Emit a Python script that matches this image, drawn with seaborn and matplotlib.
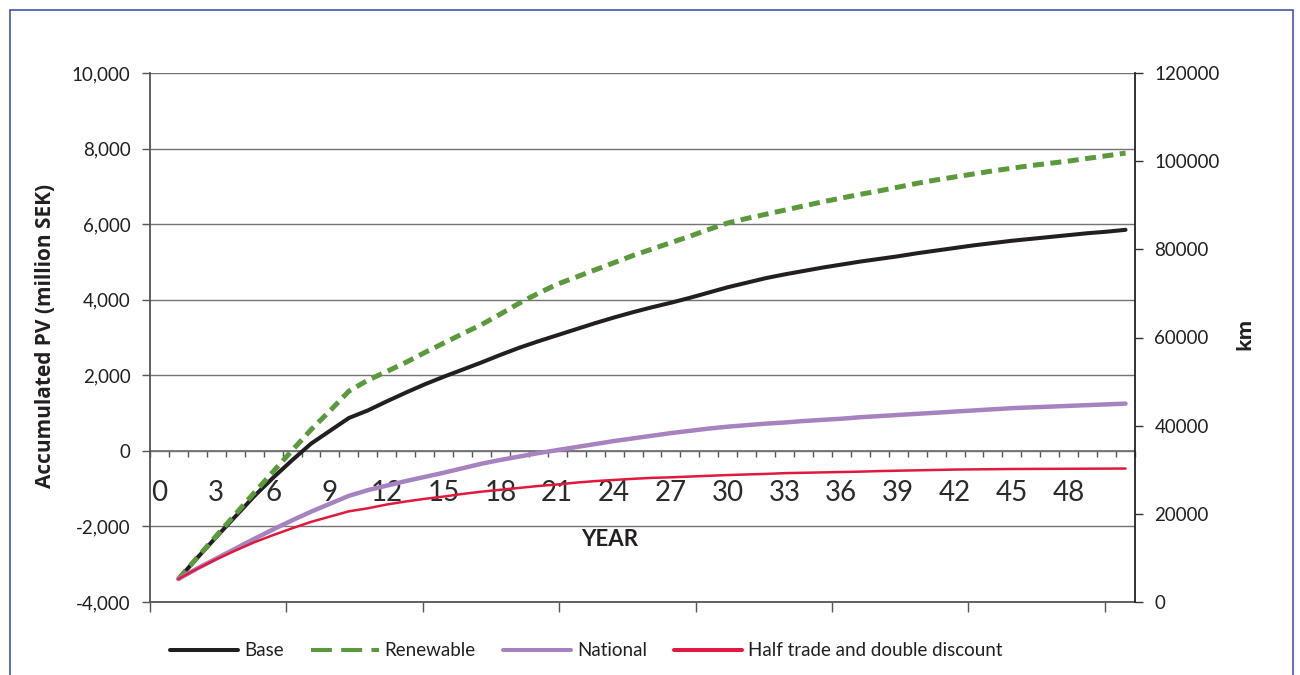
import numpy as np
import pandas as pd
import matplotlib
matplotlib.use("Agg")
import matplotlib.pyplot as plt
from matplotlib.lines import Line2D
from matplotlib.patches import Rectangle
from matplotlib.ticker import FuncFormatter, FixedLocator
import seaborn as sns

# ---------------- data ----------------
years = list(range(1, 52))
base = [-3390, -2830, -2280, -1740, -1200, -710, -250, 190, 530, 870,
        1070, 1310, 1540, 1760, 1960, 2150, 2340, 2540, 2730, 2900,
        3060, 3220, 3380, 3530, 3670, 3800, 3920, 4050, 4190, 4330,
        4450, 4570, 4670, 4760, 4850, 4930, 5010, 5080, 5150, 5230,
        5300, 5370, 5440, 5500, 5560, 5610, 5660, 5710, 5760, 5800, 5850]
renewable = [-3390, -2820, -2250, -1680, -1110, -550, 10, 560, 1060, 1580,
             1870, 2100, 2340, 2600, 2850, 3100, 3340, 3620, 3910, 4170,
             4410, 4600, 4790, 4980, 5170, 5340, 5510, 5680, 5860, 6030,
             6150, 6260, 6370, 6480, 6590, 6690, 6790, 6880, 6980, 7080,
             7170, 7250, 7330, 7410, 7480, 7550, 7610, 7670, 7740, 7810, 7880]
national = [-3390, -3110, -2850, -2590, -2330, -2080, -1840, -1610, -1400, -1190,
            -1040, -920, -800, -690, -580, -460, -340, -240, -150, -60,
            20, 100, 180, 260, 330, 400, 470, 530, 590, 640,
            680, 720, 750, 790, 820, 850, 890, 920, 950, 980,
            1010, 1040, 1070, 1100, 1130, 1150, 1170, 1190, 1210, 1230, 1250]
half_trade = [-3390, -3120, -2870, -2640, -2420, -2230, -2050, -1880, -1740, -1600,
              -1520, -1420, -1340, -1270, -1210, -1140, -1080, -1030, -980, -930,
              -890, -840, -800, -770, -740, -715, -700, -680, -660, -640,
              -625, -610, -590, -580, -570, -560, -550, -535, -525, -515,
              -505, -495, -490, -485, -480, -478, -476, -474, -472, -470, -468]
series_names = ["Base", "Renewable", "National", "Half trade and double discount"]
x_label_values = list(range(0, 49, 3))
x_tick_labels = [str(v) for v in x_label_values]
left_ticks = [-4000, -2000, 0, 2000, 4000, 6000, 8000, 10000]
right_ticks = [0, 20000, 40000, 60000, 80000, 100000, 120000]

# ---------------- style ----------------
sns.set_theme(style="white")
plt.rcParams["font.family"] = ["Lato", "DejaVu Sans"]
TXT = "#231f20"
colors = {"Base": "#231f20", "Renewable": "#5b9a3c",
          "National": "#a682c0", "Half trade and double discount": "#e2193c"}
widths = {"Base": 2.9, "Renewable": 3.6, "National": 3.2,
          "Half trade and double discount": 1.8}

fig = plt.figure(figsize=(13, 6.75), dpi=100)
fig.patch.set_facecolor("white")
ax = fig.add_axes([150 / 1300, 1 - 602 / 675, 985 / 1300, 529 / 675])
ax.set_facecolor("white")

df = pd.DataFrame({
    "year": years * 4,
    "value": base + renewable + national + half_trade,
    "series": sum([[n] * len(years) for n in series_names], []),
})

for name in series_names:
    sub = df[df["series"] == name]
    sns.lineplot(data=sub, x="year", y="value", color=colors[name],
                 linewidth=widths[name], ax=ax, legend=False)
    line = ax.lines[-1]
    if name == "Renewable":
        line.set_dashes((2.2, 1.3))
        line.set_dash_capstyle("butt")

ymin, ymax = -4000, 10000
ax.set_xlim(-0.5, 51.5)
ax.set_ylim(ymin, ymax)
ax.set_xlabel("")
ax.set_yticks(left_ticks)
ax.yaxis.set_major_formatter(FuncFormatter(lambda v, p: f"{v:,.0f}"))
ax.tick_params(axis="y", which="major", length=6, width=1, color="#555555",
               direction="out", pad=8, labelsize=13.5, labelcolor=TXT, left=True)
ax.yaxis.grid(True, color="#737373", linewidth=1.0)
ax.xaxis.grid(False)

# bottom axis ticks (category groups)
bottom_ticks = [-0.5 + 7.2 * k for k in range(8)]
ax.set_xticks(bottom_ticks)
ax.tick_params(axis="x", which="major", length=7, width=1, color="#555555",
               direction="out", labelbottom=False, bottom=True)
for s in ["top", "right"]:
    ax.spines[s].set_visible(False)
for s in ["left", "bottom"]:
    ax.spines[s].set_color("#555555")
    ax.spines[s].set_linewidth(1.3)

# category axis crossing at zero
zero_frac = (0 - ymin) / (ymax - ymin)
secx = ax.secondary_xaxis(zero_frac)
secx.set_xticks(x_label_values, labels=x_tick_labels)
secx.xaxis.set_minor_locator(FixedLocator(np.arange(-0.5, 52, 1)))
secx.tick_params(which="major", length=0, pad=21, labelsize=20, labelcolor="#2b2b2b")
secx.tick_params(which="minor", length=4.5, width=1, color="#555555", direction="out")
for s in secx.spines.values():
    s.set_color("#666666")
    s.set_linewidth(1.2)

# right axis
ax2 = ax.twinx()
ax2.set_ylim(0, 120000)
ax2.set_yticks(right_ticks)
ax2.set_yticklabels([str(v) for v in right_ticks])
ax2.tick_params(axis="y", length=6, width=1, color="#333333", direction="out",
                pad=8, labelsize=13.5, labelcolor=TXT, right=True)
ax2.grid(False)
for s in ["top", "left", "bottom"]:
    ax2.spines[s].set_visible(False)
ax2.spines["right"].set_color("#222222")
ax2.spines["right"].set_linewidth(1.3)

# axis titles
ax.set_ylabel("Accumulated PV (million SEK)", fontsize=15, fontweight="bold", color=TXT,
              family=["Open Sans", "Lato", "DejaVu Sans"])
ax.yaxis.set_label_coords(-0.0955, 0.503)
ax2.set_ylabel("km", fontsize=14.5, fontweight="bold", color=TXT,
               family=["Open Sans", "Lato", "DejaVu Sans"])
ax2.yaxis.set_label_coords(1.1015, 0.507)
ax.text(0.467, 0.119, "YEAR", transform=ax.transAxes, ha="center", va="center",
        fontsize=16, fontweight="bold", color=TXT)

# legend
handles = [
    Line2D([0], [0], color=colors["Base"], lw=2.9),
    Line2D([0], [0], color=colors["Renewable"], lw=2.9, dashes=(5.2, 2.3),
           dash_capstyle="butt"),
    Line2D([0], [0], color=colors["National"], lw=2.9),
    Line2D([0], [0], color=colors["Half trade and double discount"], lw=2.9),
]
fig.legend(handles, series_names, loc="center left",
           bbox_to_anchor=(170 / 1300, 1 - 651 / 675), ncol=4, frameon=False,
           handlelength=3.63, handletextpad=0.32, columnspacing=1.44,
           borderaxespad=0, borderpad=0,
           prop={"family": ["Lato", "DejaVu Sans"], "size": 13.5},
           labelcolor=TXT)

# outer frame
fig.patches.append(Rectangle((10 / 1300, -0.1), (1293 - 10) / 1300, 1.1 - 10 / 675,
                             transform=fig.transFigure, fill=False,
                             edgecolor="#4455aa", linewidth=1.2))

fig.savefig("out.png", dpi=100)
